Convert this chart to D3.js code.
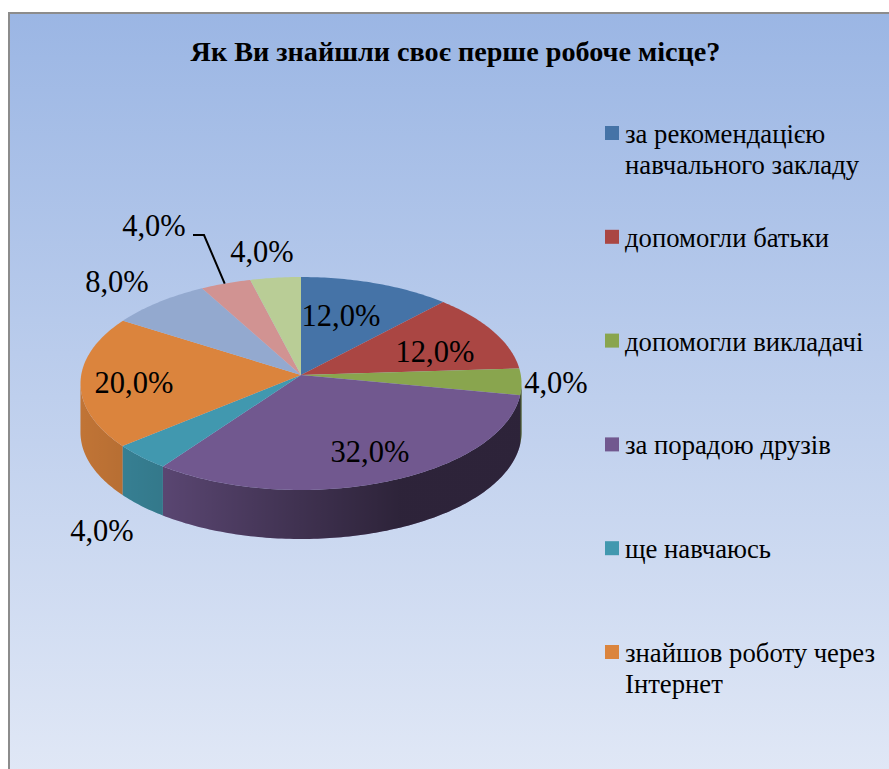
<!DOCTYPE html>
<html>
<head>
<meta charset="utf-8">
<script src="https://cdn.jsdelivr.net/npm/d3@7"></script>
<style>
  html, body { margin: 0; padding: 0; background: #fff; }
  svg { display: block; }
  text { font-family: "Liberation Serif", serif; fill: #000; }
</style>
</head>
<body>
<script>
//Chart data
var categories = ["за рекомендацією навчального закладу", "допомогли батьки", "допомогли викладачі",
    "за порадою друзів", "ще навчаюсь", "знайшов роботу через Інтернет", "", "", ""];
var values = [12, 12, 4, 32, 4, 20, 8, 4, 4];
var valueLabels = ["12,0%", "12,0%", "4,0%", "32,0%", "4,0%", "20,0%", "8,0%", "4,0%", "4,0%"];
var colors = ["#4573A7", "#AA4643", "#89A54E", "#71588F", "#4198AF", "#DB843D", "#93A9CF", "#D19392", "#B9CD96"];

//Legend lines, only the first six categories are visible in the picture
var legendLines = [["за рекомендацією", "навчального закладу"], ["допомогли батьки"], ["допомогли викладачі"],
    ["за порадою друзів"], ["ще навчаюсь"], ["знайшов роботу через", "Інтернет"]];

//Where the data labels sit, centre x and baseline y
var labelX = [341, 435, 556, 370, 102, 134, 117, 154, 262];
var labelY = [326, 362, 393, 462, 541, 393, 292, 236, 262];

var svgwidth = 889;
var svgheight = 769;

var svg = d3.select("body")
            .append("svg")
            .attr("width", svgwidth)
            .attr("height", svgheight);

var defs = svg.append("defs");

//Panel background
var bg = defs.append("linearGradient")
    .attr("id", "panelFill")
    .attr("x1", 0).attr("y1", 0).attr("x2", 0).attr("y2", 1);
bg.append("stop").attr("offset", "0%").attr("stop-color", "#9BB6E4");
bg.append("stop").attr("offset", "100%").attr("stop-color", "#E1E8F6");

svg.append("rect")
    .attr("x", 9)
    .attr("y", 13)
    .attr("width", svgwidth)
    .attr("height", svgheight)
    .attr("fill", "url(#panelFill)")
    .attr("stroke", "#8c8c8c")
    .attr("stroke-width", 2);

svg.append("text")
    .attr("x", 455.5)
    .attr("y", 61)
    .attr("text-anchor", "middle")
    .attr("font-size", 28.2)
    .attr("font-weight", "bold")
    .text("Як Ви знайшли своє перше робоче місце?");

//Perspective pie: apex of the slices and the tilt of the disc
var cx = 301, cy = 375;
var radiusX = 219.8, radiusY = 105.8, persp = 0.0798, depth = 49;

function project(angle) {
    var s = 1 / (1 + persp * Math.cos(angle));
    return [cx + radiusX * Math.sin(angle) * s, cy - radiusY * Math.cos(angle) * s];
}

var pie = d3.pie().sort(null).value(d => d);
var slices = pie(values);

function arcPoints(a0, a1) {
    var n = Math.max(2, Math.ceil((a1 - a0) * 60));
    return d3.range(n + 1).map(i => project(a0 + (a1 - a0) * i / n));
}

var line = d3.line();

//Shading of the rim, dark on the right hand side
var shadeX = d3.scaleLinear().domain([80, 165, 300, 400, 521]).range([0.12, 0.21, 0.44, 0.6, 0.6]);
var shade = defs.append("linearGradient")
    .attr("id", "rimShade")
    .attr("gradientUnits", "userSpaceOnUse")
    .attr("x1", 80).attr("y1", 0).attr("x2", 521).attr("y2", 0);
shadeX.domain().forEach(function(x) {
    shade.append("stop")
        .attr("offset", (x - 80) / (521 - 80))
        .attr("stop-color", "#000")
        .attr("stop-opacity", shadeX(x));
});

//Only the part of the rim that faces the viewer is visible
var rimStart = Math.acos(-persp);
var rimEnd = 2 * Math.PI - rimStart;

var rimData = slices.filter(d => d.endAngle > rimStart && d.startAngle < rimEnd).map(function(d) {
    var top = arcPoints(Math.max(d.startAngle, rimStart), Math.min(d.endAngle, rimEnd));
    var bottom = top.map(p => [p[0], p[1] + depth]).reverse();
    return { path: line(top.concat(bottom)) + "Z", color: colors[d.index] };
});

var pieGroup = svg.append("g");

pieGroup.selectAll("path.rim")
    .data(rimData)
    .enter()
    .append("path")
    .attr("class", "rim")
    .attr("d", d => d.path)
    .attr("fill", d => d.color);

pieGroup.selectAll("path.rimShade")
    .data(rimData)
    .enter()
    .append("path")
    .attr("class", "rimShade")
    .attr("d", d => d.path)
    .attr("fill", "url(#rimShade)");

pieGroup.selectAll("path.slice")
    .data(slices)
    .enter()
    .append("path")
    .attr("class", "slice")
    .attr("d", d => line([[cx, cy]].concat(arcPoints(d.startAngle, d.endAngle))) + "Z")
    .attr("fill", d => colors[d.index]);

//Leader line of the pink slice
var leaderEnd = project(slices[7].startAngle + (slices[7].endAngle - slices[7].startAngle) * 0.48);
svg.append("path")
    .attr("d", line([[193, 235], [204, 235], leaderEnd]))
    .attr("fill", "none")
    .attr("stroke", "#000")
    .attr("stroke-width", 2);

//Data labels
svg.selectAll("text.valueLabel")
    .data(valueLabels)
    .enter()
    .append("text")
    .attr("class", "valueLabel")
    .attr("x", (d, i) => labelX[i])
    .attr("y", (d, i) => labelY[i])
    .attr("text-anchor", "middle")
    .attr("font-size", 30.5)
    .text(d => d);

//Legend
var legendY = d3.scaleLinear().domain([0, 5]).range([126, 645]);

var legend = svg.selectAll("g.legendItem")
    .data(legendLines)
    .enter()
    .append("g")
    .attr("class", "legendItem")
    .attr("transform", (d, i) => `translate(605, ${legendY(i)})`);

legend.append("rect")
    .attr("width", 14)
    .attr("height", 14)
    .attr("fill", (d, i) => colors[i]);

legend.each(function(lines) {
    d3.select(this).selectAll("text")
        .data(lines)
        .enter()
        .append("text")
        .attr("x", 20)
        .attr("y", (d, i) => 17 + i * 31)
        .attr("font-size", 26.7)
        .text(d => d);
});
</script>
</body>
</html>
